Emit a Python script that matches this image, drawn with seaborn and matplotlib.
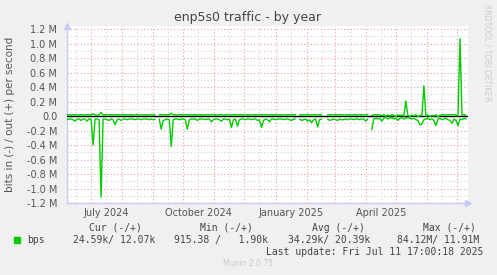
import numpy as np
import pandas as pd
import matplotlib
matplotlib.use("Agg")
import matplotlib.pyplot as plt
import matplotlib.dates as mdates
import matplotlib.ticker as mticker
import seaborn as sns

nan = np.nan

# ---- data (values in M bits/s, one sample every 2 days) ----
start_date = "2024-06-07"
end_date = "2025-07-12"

out_vals = [
    0.017, 0.020, 0.015, 0.018, 0.020, 0.016, 0.017, 0.020, 0.015, 0.018,
    0.017, 0.020, 0.016, 0.030, 0.018, 0.015, 0.020, 0.050, 0.017, 0.020,
    0.015, 0.018, 0.020, 0.016, 0.017, 0.020, 0.015, 0.018, 0.017, 0.020,
    0.016, 0.018, 0.020, 0.015, 0.017, 0.020, 0.016, 0.018, 0.017, 0.020,
    0.015, 0.018, 0.020, 0.016, 0.017, nan, 0.018, 0.020, 0.016, 0.017,
    0.020, 0.018, 0.040, 0.017, 0.020, 0.015, 0.018, 0.020, 0.016, 0.017,
    0.020, 0.015, 0.018, 0.017, 0.020, 0.016, 0.018, 0.020, 0.015, 0.017,
    0.020, 0.016, 0.018, 0.017, 0.020, 0.015, 0.018, 0.020, 0.016, 0.017,
    0.020, 0.015, 0.018, 0.017, 0.020, 0.016, 0.018, 0.020, 0.015, 0.017,
    0.020, 0.016, 0.018, 0.017, 0.020, 0.015, 0.018, 0.020, 0.016, 0.017,
    0.020, 0.015, 0.018, 0.017, 0.020, 0.016, 0.018, 0.020, 0.015, 0.017,
    0.020, 0.016, 0.018, 0.017, 0.020, nan, 0.018, 0.020, 0.016, 0.017,
    0.020, 0.015, 0.018, 0.017, 0.020, 0.016, 0.018, 0.020, nan, nan,
    0.018, 0.020, 0.015, 0.017, 0.020, 0.016, 0.018, 0.020, 0.015, 0.017,
    0.020, 0.016, 0.018, 0.017, 0.020, 0.015, 0.018, 0.020, 0.016, 0.017,
    0.020, nan, 0.010, 0.018, 0.020, 0.015, 0.018, 0.005, 0.020, -0.005,
    0.015, 0.000, 0.020, 0.010, -0.010, 0.018, 0.005, 0.015, 0.000, 0.210,
    0.010, -0.005, 0.015, 0.000, 0.020, -0.010, 0.010, 0.005, 0.420, 0.000,
    0.015, -0.005, 0.010, 0.000, 0.018, -0.010, 0.010, 0.018, 0.020, 0.016,
    0.018, 0.020, 0.017, 0.018, 0.016, 0.000, 1.070, 0.010, 0.020, 0.015,
]

in_vals = [
    -0.05, -0.04, -0.04, -0.05, -0.07, -0.04, -0.04, -0.06, -0.04, -0.04,
    -0.07, -0.04, -0.04, -0.40, -0.04, -0.04, -0.05, -1.12, -0.04, -0.04,
    -0.05, -0.06, -0.04, -0.05, -0.12, -0.05, -0.04, -0.06, -0.04, -0.04,
    -0.05, -0.04, -0.04, -0.04, -0.05, -0.04, -0.04, -0.05, -0.04, -0.04,
    -0.04, -0.05, -0.04, -0.05, -0.04, nan, -0.04, -0.18, -0.06, -0.05,
    -0.04, -0.05, -0.42, -0.05, -0.04, -0.04, -0.05, -0.04, -0.04, -0.05,
    -0.18, -0.05, -0.04, -0.04, -0.04, -0.06, -0.04, -0.04, -0.04, -0.05,
    -0.04, -0.04, -0.08, -0.05, -0.04, -0.04, -0.05, -0.07, -0.04, -0.04,
    -0.05, -0.04, -0.16, -0.05, -0.04, -0.14, -0.05, -0.04, -0.04, -0.05,
    -0.04, -0.04, -0.05, -0.04, -0.04, -0.06, -0.05, -0.16, -0.06, -0.04,
    -0.05, -0.08, -0.04, -0.04, -0.05, -0.04, -0.04, -0.04, -0.05, -0.04,
    -0.04, -0.05, -0.06, -0.04, -0.04, nan, -0.04, -0.06, -0.05, -0.04,
    -0.07, -0.05, -0.09, -0.05, -0.04, -0.15, -0.05, -0.04, nan, nan,
    -0.04, -0.06, -0.05, -0.04, -0.05, -0.06, -0.04, -0.05, -0.05, -0.04,
    -0.05, -0.04, -0.04, -0.05, -0.04, -0.04, -0.05, -0.04, -0.04, -0.07,
    -0.04, nan, -0.19, -0.04, -0.03, -0.04, -0.03, -0.07, -0.03, -0.02,
    -0.04, -0.03, -0.02, -0.04, -0.03, -0.06, -0.03, -0.02, -0.04, -0.03,
    -0.02, -0.03, -0.04, -0.03, -0.05, -0.06, -0.12, -0.11, -0.05, -0.04,
    -0.03, -0.05, -0.04, -0.06, -0.13, -0.04, -0.03, -0.05, -0.04, -0.03,
    -0.05, -0.06, -0.10, -0.04, -0.06, -0.13, -0.04, -0.05, -0.03, -0.04,
]

y_ticks = [-1.2, -1.0, -0.8, -0.6, -0.4, -0.2, 0.0, 0.2, 0.4, 0.6, 0.8, 1.0, 1.2]
y_labels = ["-1.2 M", "-1.0 M", "-0.8 M", "-0.6 M", "-0.4 M", "-0.2 M", "0.0",
            "0.2 M", "0.4 M", "0.6 M", "0.8 M", "1.0 M", "1.2 M"]
x_label_months = ["2024-07-16", "2024-10-16", "2025-01-16", "2025-04-16"]
x_label_texts = ["July 2024", "October 2024", "January 2025", "April 2025"]

legend_header = ["Cur (-/+)", "Min (-/+)", "Avg (-/+)", "Max (-/+)"]
legend_row = ["24.59k/ 12.07k", "915.38 /   1.90k", "34.29k/ 20.39k", "84.12M/ 11.91M"]

# ---- build frames ----
dates = pd.date_range(start_date, periods=len(out_vals), freq="2D")
def frame(vals):
    s = pd.Series(vals, dtype=float)
    return pd.DataFrame({"date": dates, "value": s, "seg": s.isna().cumsum()})
df_out = frame(out_vals)
df_in = frame(in_vals)

sns.set_theme(style="white")
plt.rcParams["font.family"] = ["DejaVu Sans"]

W, H = 497, 275
fig = plt.figure(figsize=(W / 100, H / 100), dpi=100, facecolor="#F0F0F0")
ax = fig.add_axes([67 / W, 1 - 203 / H, (468 - 67) / W, (203 - 26) / H])
ax.set_facecolor("white")

GREEN = "#00CC00"
AXC = "#c8ccf5"
for d in (df_out, df_in):
    sns.lineplot(data=d, x="date", y="value", units="seg", estimator=None,
                 color=GREEN, lw=1.0, ax=ax, legend=False, zorder=4)

ax.axhline(0, color="black", lw=1.0, zorder=3)

ax.set_xlim(pd.Timestamp(start_date), pd.Timestamp(end_date))
ax.set_ylim(-1.2, 1.244)

# y grid
ax.set_yticks(y_ticks)
ax.set_yticklabels(y_labels)
ax.set_yticks([v + 0.1 for v in y_ticks[:-1]], minor=True)
# x grid
ax.xaxis.set_major_locator(mdates.MonthLocator())
ax.xaxis.set_major_formatter(mticker.NullFormatter())
ax.xaxis.set_minor_locator(mdates.MonthLocator(bymonthday=16))
ax.xaxis.set_minor_formatter(mticker.NullFormatter())

ax.grid(which="major", color="#eaa0a0", lw=0.8, ls=(0, (1, 2)), zorder=1)
ax.grid(which="minor", color="#d0d0d0", lw=0.8, ls=(0, (1, 2)), zorder=1)

for t, lab in zip(x_label_months, x_label_texts):
    ax.text(pd.Timestamp(t), -0.055, lab, transform=ax.get_xaxis_transform(),
            ha="center", va="center", fontsize=7, color="#555555")

ax.tick_params(axis="y", which="major", length=2, color="#aaaaaa", pad=5,
               labelsize=7, labelcolor="#555555")
ax.tick_params(axis="y", which="minor", length=0)
ax.tick_params(axis="x", which="major", length=2, color="#e07070", direction="in")
ax.tick_params(axis="x", which="minor", length=1.5, color="#aaaaaa", direction="in")

for s in ("top", "right"):
    ax.spines[s].set_visible(False)
for s in ("left", "bottom"):
    ax.spines[s].set_color(AXC)
    ax.spines[s].set_linewidth(1.0)
ax.plot([0], [1.0], marker="^", ms=4, color=AXC, transform=ax.transAxes,
        clip_on=False, zorder=5)
ax.plot([1.0], [0], marker=">", ms=4, color=AXC, transform=ax.transAxes,
        clip_on=False, zorder=5)

ax.set_xlabel("")
ax.set_ylabel("")

fig.text(248 / W, 1 - 18 / H, "enp5s0 traffic - by year", ha="center", va="center",
         fontsize=9, color="#444444")
fig.text(10.5 / W, 1 - 114.5 / H, "bits in (-) / out (+) per second", rotation=90,
         ha="center", va="center", fontsize=7.5, color="#555555")
fig.text(487 / W, 1 - 53 / H, "RRDTOOL / TOBI OETIKER", rotation=270, ha="center",
         va="center", fontsize=5.5, color="#cccccc")

mono = "DejaVu Sans Mono"
for x, s in zip([89, 200, 312, 423], legend_header):
    fig.text(x / W, 1 - 228 / H, s, ha="left", va="center", fontsize=7,
             family=mono, color="#444444")
fig.patches.append(plt.Rectangle((14 / W, 1 - 243 / H), 6 / W, 6 / H,
                                 transform=fig.transFigure, color=GREEN))
fig.text(27 / W, 1 - 240 / H, "bps", ha="left", va="center", fontsize=7,
         family=mono, color="#444444")
for x, s in zip([73, 174, 288, 397], legend_row):
    fig.text(x / W, 1 - 240 / H, s, ha="left", va="center", fontsize=7,
             family=mono, color="#444444")
fig.text(483 / W, 1 - 252 / H, "Last update: Fri Jul 11 17:00:18 2025", ha="right",
         va="center", fontsize=7, family=mono, color="#444444")
fig.text(248 / W, 1 - 264 / H, "Munin 2.0.75", ha="center", va="center",
         fontsize=5.5, color="#c8c8c8")

fig.savefig("out.png", dpi=100, facecolor=fig.get_facecolor())
